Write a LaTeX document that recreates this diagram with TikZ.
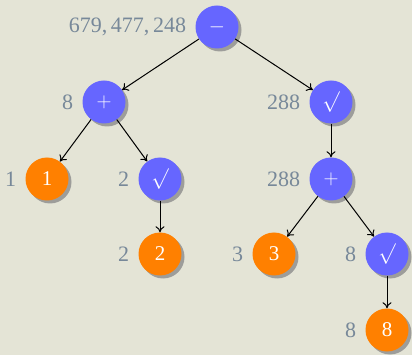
\documentclass[tikz,border=0pt]{standalone}
\usepackage{fontspec}
\setmainfont{Liberation Serif}
\usetikzlibrary{shadows,arrows.meta}
\definecolor{bg}{HTML}{E4E4D6}
\definecolor{opblue}{HTML}{6666FF}
\definecolor{leaforange}{HTML}{FF8000}
\definecolor{lblgray}{HTML}{778899}
\begin{document}
\begin{tikzpicture}[x=1pt,y=1pt,
  base/.style={circle,minimum size=43pt,inner sep=0pt,text=white,
    font=\fontsize{21}{24}\selectfont,
    drop shadow={shadow xshift=3pt,shadow yshift=-3pt,fill=black!45,opacity=0.8}},
  opnode/.style={base,fill=opblue},
  leafnode/.style={base,fill=leaforange},
  val/.style={text=lblgray,font=\fontsize{22}{25}\selectfont,anchor=east,inner sep=0pt},
  edge/.style={-{To[length=6pt,width=9pt]},line width=1pt,black}]
\fill[bg] (0,0) rectangle (412,-355);
\useasboundingbox (0,0) rectangle (412,-355);
\node[opnode] (r) at (217,-27) {$-$};
\node[opnode] (p1) at (104,-102) {$+$};
\node[opnode] (s1) at (331,-102) {$\sqrt{}$};
\node[leafnode] (l1) at (47,-179) {1};
\node[opnode] (s2) at (160,-179) {$\sqrt{}$};
\node[opnode] (p2) at (331,-179) {$+$};
\node[leafnode] (l2) at (160,-254) {2};
\node[leafnode] (l3) at (274,-254) {3};
\node[opnode] (s3) at (387,-254) {$\sqrt{}$};
\node[leafnode] (l8) at (387,-330) {8};
\node[val] (vr) at ([xshift=-9pt]r.west) {679,\,477,\,248};
\node[val] (vp1) at ([xshift=-9pt]p1.west) {8};
\node[val] (vs1) at ([xshift=-9pt]s1.west) {288};
\node[val] (vl1) at ([xshift=-9pt]l1.west) {1};
\node[val] (vs2) at ([xshift=-9pt]s2.west) {2};
\node[val] (vp2) at ([xshift=-9pt]p2.west) {288};
\node[val] (vl2) at ([xshift=-9pt]l2.west) {2};
\node[val] (vl3) at ([xshift=-9pt]l3.west) {3};
\node[val] (vs3) at ([xshift=-9pt]s3.west) {8};
\node[val] (vl8) at ([xshift=-9pt]l8.west) {8};
\draw[edge] (r) -- (p1);
\draw[edge] (r) -- (s1);
\draw[edge] (p1) -- (l1);
\draw[edge] (p1) -- (s2);
\draw[edge] (s2) -- (l2);
\draw[edge] (s1) -- (p2);
\draw[edge] (p2) -- (l3);
\draw[edge] (p2) -- (s3);
\draw[edge] (s3) -- (l8);
\end{tikzpicture}
\end{document}
